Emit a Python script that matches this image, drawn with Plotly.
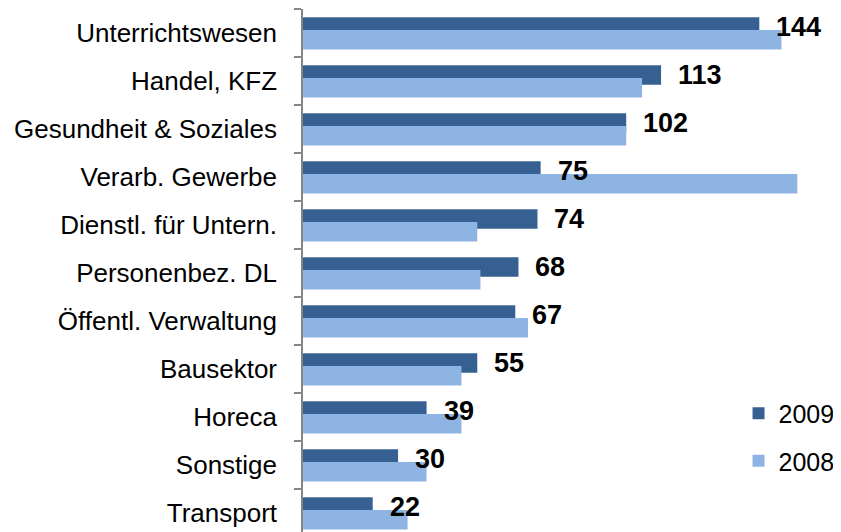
import plotly.graph_objects as go

categories = ["Unterrichtswesen", "Handel, KFZ", "Gesundheit & Soziales", "Verarb. Gewerbe",
              "Dienstl. für Untern.", "Personenbez. DL", "Öffentl. Verwaltung", "Bausektor",
              "Horeca", "Sonstige", "Transport"]
v2009 = [144, 113, 102, 75, 74, 68, 67, 55, 39, 30, 22]
v2008 = [151, 107, 102, 156, 55, 56, 71, 50, 50, 39, 33]
series_names = ["2009", "2008"]

C_DARK = "#376092"
C_LIGHT = "#8EB4E3"
FONT = "Liberation Sans, Arial, sans-serif"

fig = go.Figure()
fig.add_trace(go.Bar(
    y=categories, x=v2009, orientation="h", name=series_names[0],
    marker=dict(color=C_DARK, line=dict(width=0)),
    width=0.404, offset=-0.327, legendgroup="a",
))
fig.add_trace(go.Bar(
    y=categories, x=v2008, orientation="h", name=series_names[1],
    marker=dict(color=C_LIGHT, line=dict(width=0)),
    width=0.404, offset=-0.0625, legendgroup="b",
))

for cat, v in zip(categories, v2009):
    fig.add_annotation(
        x=v, y=cat, text=str(v), showarrow=False,
        xanchor="left", yanchor="middle", xshift=15, yshift=6,
        font=dict(family=FONT, size=27, color="black", weight="bold"),
    )

# page body has an 8px default margin, so the figure is sized to the visible area
fig.update_layout(
    template="none",
    width=833, height=524,
    margin=dict(l=295, r=31, t=1, b=0, autoexpand=False),
    plot_bgcolor="white", paper_bgcolor="white",
    barmode="overlay",
    font=dict(family=FONT, size=26, color="black"),
    showlegend=True,
    legend=dict(
        xref="container", yref="container",
        x=0.877, y=0.27, xanchor="left", yanchor="top",
        font=dict(family=FONT, size=25, color="black"),
        bgcolor="rgba(0,0,0,0)", tracegroupgap=12,
        itemclick=False,
    ),
    xaxis=dict(range=[0, 160], visible=False, showgrid=False, zeroline=False, automargin=False),
    yaxis=dict(
        type="category", categoryorder="array", categoryarray=categories,
        range=[10.396, -0.5], automargin=False,
        showline=True, linecolor="#868686", linewidth=1.5,
        ticks="outside", tickson="boundaries", ticklen=7, tickcolor="#868686", tickwidth=1.5,
        tickfont=dict(family=FONT, size=26, color="black"),
        ticklabelstandoff=19,
        showgrid=False, zeroline=False,
    ),
)

fig.write_html("out.html")
